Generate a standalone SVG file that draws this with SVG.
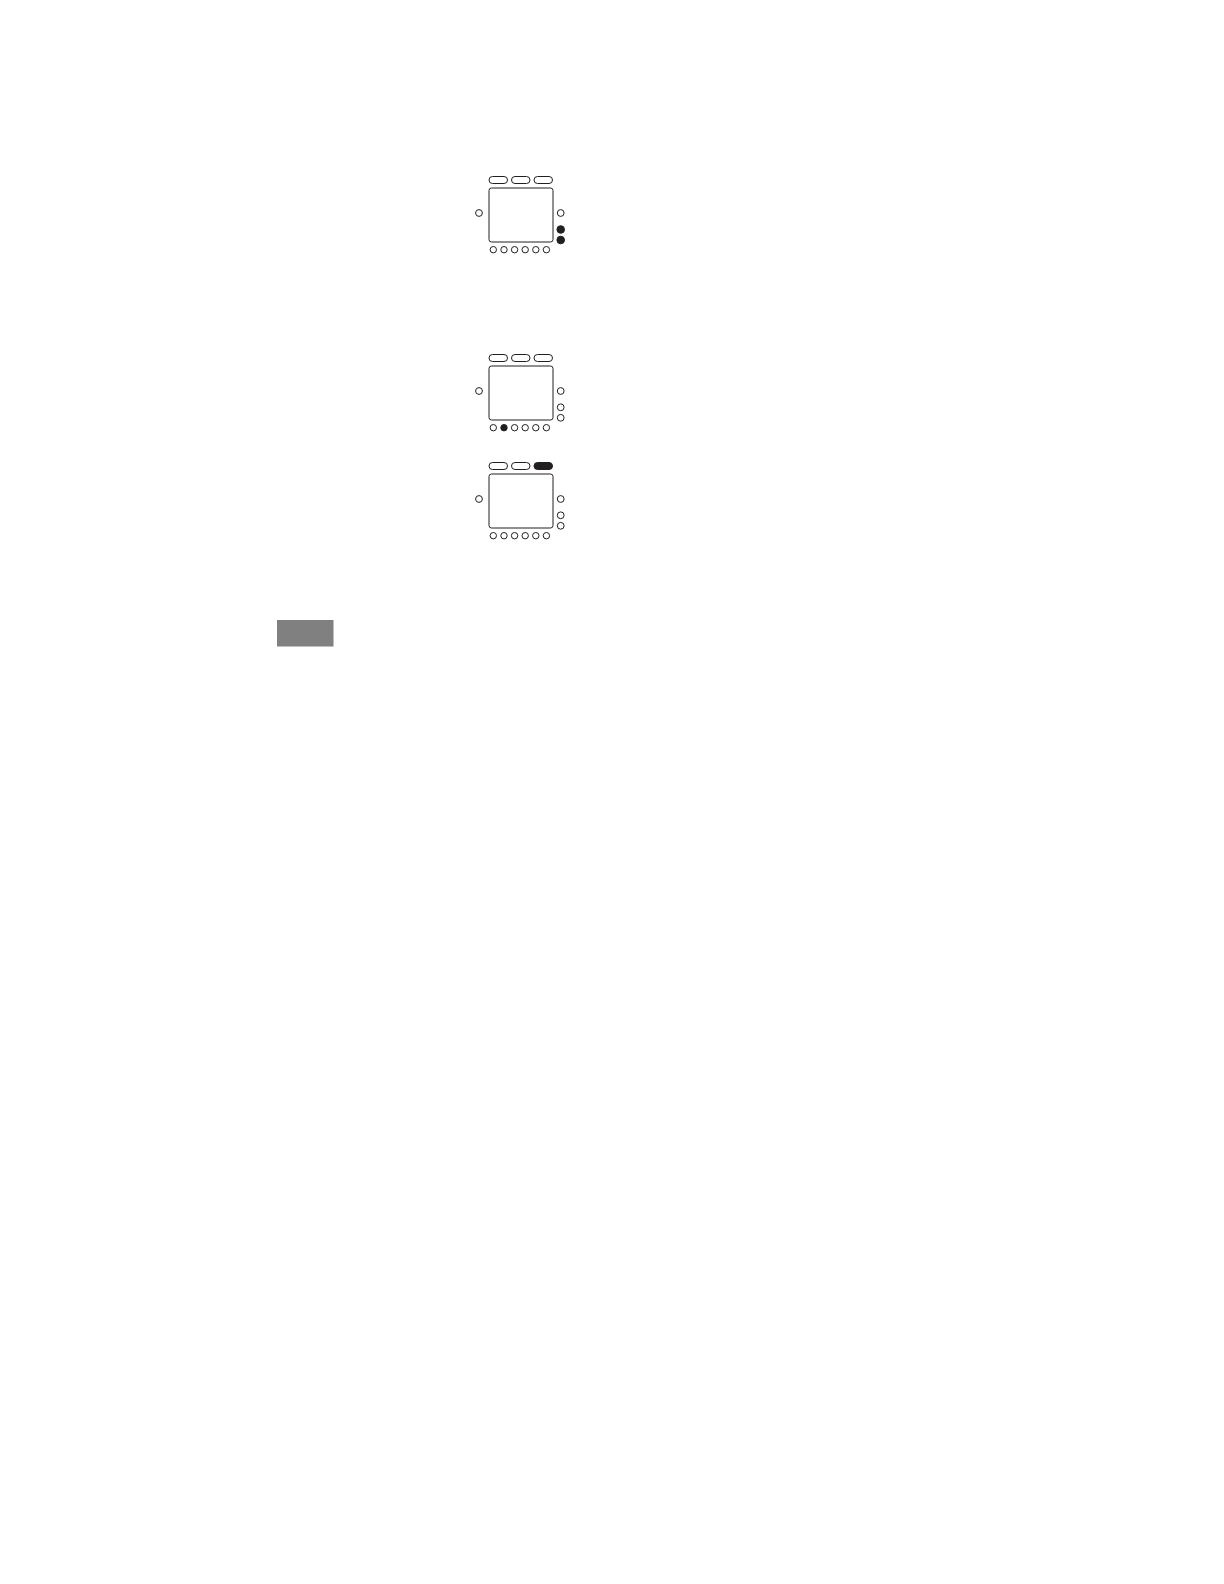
<svg xmlns="http://www.w3.org/2000/svg" width="1224" height="1584" viewBox="0 0 1224 1584">
<style>
.o{fill:#fff;stroke:#231f20;stroke-width:1}
.f{fill:#231f20;stroke:#231f20;stroke-width:1}
</style>
<defs>
<g id="base">
<rect class="o" x="489" y="188" width="64" height="54" rx="2.5"/>
<circle class="o" cx="479" cy="213" r="3.4"/>
<circle class="o" cx="560.7" cy="213" r="3.4"/>
</g>
</defs>
<rect width="1224" height="1584" fill="#fff"/>
<g id="device1">
<use href="#base"/>
<rect class="o" x="489" y="176.5" width="18.5" height="7" rx="3.5"/>
<rect class="o" x="511.5" y="176.5" width="18.5" height="7" rx="3.5"/>
<rect class="o" x="534" y="176.5" width="18.5" height="7" rx="3.5"/>
<circle class="f" cx="560.7" cy="229.5" r="3.8"/>
<circle class="f" cx="560.7" cy="240" r="3.8"/>
<circle class="o" cx="493.3" cy="249.7" r="3.2"/>
<circle class="o" cx="504" cy="249.7" r="3.2"/>
<circle class="o" cx="514.6" cy="249.7" r="3.2"/>
<circle class="o" cx="525.2" cy="249.7" r="3.2"/>
<circle class="o" cx="535.8" cy="249.7" r="3.2"/>
<circle class="o" cx="546.4" cy="249.7" r="3.2"/>
</g>
<g id="device2" transform="translate(0,178)">
<use href="#base"/>
<rect class="o" x="489" y="176.5" width="18.5" height="7" rx="3.5"/>
<rect class="o" x="511.5" y="176.5" width="18.5" height="7" rx="3.5"/>
<rect class="o" x="534" y="176.5" width="18.5" height="7" rx="3.5"/>
<circle class="o" cx="560.7" cy="229.3" r="3.4"/>
<circle class="o" cx="560.7" cy="239.8" r="3.4"/>
<circle class="o" cx="493.3" cy="249.7" r="3.2"/>
<circle class="f" cx="504" cy="249.7" r="3.2"/>
<circle class="o" cx="514.6" cy="249.7" r="3.2"/>
<circle class="o" cx="525.2" cy="249.7" r="3.2"/>
<circle class="o" cx="535.8" cy="249.7" r="3.2"/>
<circle class="o" cx="546.4" cy="249.7" r="3.2"/>
</g>
<g id="device3" transform="translate(0,286)">
<use href="#base"/>
<rect class="o" x="489" y="176.5" width="18.5" height="7" rx="3.5"/>
<rect class="o" x="511.5" y="176.5" width="18.5" height="7" rx="3.5"/>
<rect class="f" x="534" y="176.5" width="18.5" height="7" rx="3.5"/>
<circle class="o" cx="560.7" cy="229.3" r="3.4"/>
<circle class="o" cx="560.7" cy="239.8" r="3.4"/>
<circle class="o" cx="493.3" cy="249.7" r="3.2"/>
<circle class="o" cx="504" cy="249.7" r="3.2"/>
<circle class="o" cx="514.6" cy="249.7" r="3.2"/>
<circle class="o" cx="525.2" cy="249.7" r="3.2"/>
<circle class="o" cx="535.8" cy="249.7" r="3.2"/>
<circle class="o" cx="546.4" cy="249.7" r="3.2"/>
</g>
<g id="graybox">
<rect x="277" y="620" width="56.5" height="26.5" fill="#808080"/>
</g>
<g id="connectors"></g>
</svg>
